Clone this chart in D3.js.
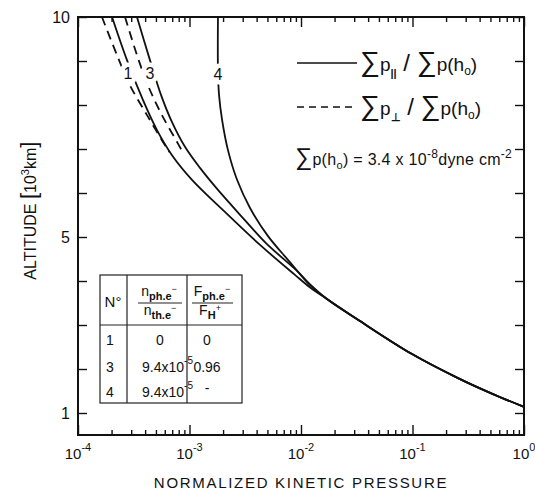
<!DOCTYPE html>
<html>
<head>
<meta charset="utf-8">
<script src="https://cdn.jsdelivr.net/npm/d3@7"></script>
<style>
  body { margin: 0; background: #fff; }
  svg text { font-family: "Liberation Sans", Arial, sans-serif; fill: #111; }
</style>
</head>
<body>
<div id="chart"></div>
<script>
// values: [normalized kinetic pressure, altitude in 10^3 km]
const curve1Par = [[2.02e-4, 10], [2.75e-4, 9.02], [3.83e-4, 8.11], [5.11e-4, 7.43], [6.97e-4, 6.86], [1.053e-3, 6.30],
  [2.0e-3, 5.61], [4.29e-3, 4.82], [8.83e-3, 4.14], [1.2e-2, 3.86]];
const curve3Par = [[3.38e-4, 10], [4.42e-4, 9.02], [5.55e-4, 8.23], [6.97e-4, 7.61], [9.11e-4, 7.05], [1.242e-3, 6.57],
  [1.8e-3, 6.07], [3.02e-3, 5.43], [4.85e-3, 4.86], [9.21e-3, 4.23], [1.2e-2, 3.93]];
const curve4Par = [[1.8e-3, 10], [1.8e-3, 8.8], [1.84e-3, 8.23], [1.96e-3, 7.66], [2.21e-3, 6.98], [2.67e-3, 6.30],
  [3.49e-3, 5.66], [5.06e-3, 5.02], [7.64e-3, 4.48], [1.2e-2, 3.91]];
const commonTail = [[1.71e-2, 3.59], [3.38e-2, 3.09], [9.9e-2, 2.34], [0.267, 1.77], [0.527, 1.43], [1, 1.14]];
const curve1Perp = [[1.64e-4, 10], [2.29e-4, 9.07], [2.92e-4, 8.45], [4.16e-4, 7.77], [5.78e-4, 7.16], [6.6e-4, 6.93]];
const curve3Perp = [[2.64e-4, 10], [3.5e-4, 9.02], [4.3e-4, 8.41], [5.66e-4, 7.77], [7.73e-4, 7.16], [8.6e-4, 6.95]];

const curveLabels = [
  { name: "1", p: 2.8e-4, alt: 8.73 },
  { name: "3", p: 4.43e-4, alt: 8.73 },
  { name: "4", p: 1.8e-3, alt: 8.7 }
];

const xMajor = [1e-4, 1e-3, 1e-2, 1e-1, 1];
const xExponents = ["-4", "-3", "-2", "-1", "0"];
const yTicks = [1, 2, 3, 4, 5, 6, 7, 8, 9, 10];
const yLabels = [1, 5, 10];

const tableRows = [
  ["1", "0", null, "0"],
  ["3", "9.4x10", "-5", "0.96"],
  ["4", "9.4x10", "-5", "-"]
];

const width = 535, height = 491;
const margin = {top: 17, right: 11, bottom: 56, left: 78};

const svg = d3.select("#chart").append("svg")
  .attr("width", width)
  .attr("height", height);

const x = d3.scaleLog()
  .domain([1e-4, 1])
  .range([margin.left, width - margin.right]);

const y = d3.scaleLinear()
  .domain([0.5, 10])
  .range([height - margin.bottom, margin.top]);

const xMinor = x.ticks().filter(v => !xMajor.some(m => Math.abs(m - v) / m < 1e-6));

function addTicks(gen, tx, ty, values, size) {
  const g = svg.append("g")
    .attr("transform", `translate(${tx},${ty})`)
    .call(gen.tickValues(values).tickSize(size).tickFormat(""));
  g.select(".domain").remove();
  g.selectAll("line").attr("stroke", "#111").attr("stroke-width", 1.4);
}

addTicks(d3.axisBottom(x), 0, y(0.5), xMinor, -5);
addTicks(d3.axisBottom(x), 0, y(0.5), xMajor, -10);
addTicks(d3.axisTop(x), 0, y(10), xMinor, -5);
addTicks(d3.axisTop(x), 0, y(10), xMajor, -10);
addTicks(d3.axisLeft(y), x(1e-4), 0, yTicks, -9);
addTicks(d3.axisRight(y), x(1), 0, yTicks, -9);

// frame
svg.append("rect")
  .attr("x", x(1e-4))
  .attr("y", y(10))
  .attr("width", x(1) - x(1e-4))
  .attr("height", y(0.5) - y(10))
  .attr("fill", "none")
  .attr("stroke", "#111")
  .attr("stroke-width", 2);

// tick labels
svg.selectAll(".ylab")
  .data(yLabels)
  .enter()
  .append("text")
  .attr("x", x(1e-4) - 8)
  .attr("y", d => y(d) + 6)
  .attr("text-anchor", "end")
  .style("font-size", "16px")
  .text(d => d);

const xl = svg.selectAll(".xlab")
  .data(xMajor)
  .enter()
  .append("text")
  .attr("x", d => x(d))
  .attr("y", y(0.5) + 24)
  .attr("text-anchor", "middle")
  .style("font-size", "15px");
xl.append("tspan").text("10");
xl.append("tspan")
  .attr("dy", -8)
  .style("font-size", "11px")
  .text((d, i) => xExponents[i]);

// axis titles
svg.append("text")
  .attr("x", (x(1e-4) + x(1)) / 2)
  .attr("y", height - 3)
  .attr("text-anchor", "middle")
  .style("font-size", "15px")
  .style("letter-spacing", "1.7px")
  .text("NORMALIZED KINETIC PRESSURE");

const yt = svg.append("text")
  .attr("transform", `translate(36,${y(5.6)}) rotate(-90)`)
  .attr("text-anchor", "middle")
  .style("font-size", "16px");
yt.append("tspan").text("ALTITUDE ");
yt.append("tspan").style("font-size", "22px").text("[");
yt.append("tspan").text("10");
yt.append("tspan").attr("dy", -7).style("font-size", "11px").text("3");
yt.append("tspan").attr("dy", 7).text("km");
yt.append("tspan").style("font-size", "22px").text("]");

// curves
const line = d3.line()
  .x(d => x(d[0]))
  .y(d => y(d[1]))
  .curve(d3.curveCatmullRom.alpha(0.5));

const solids = [curve1Par, curve3Par, curve4Par];
svg.selectAll(".solid")
  .data(solids)
  .enter()
  .append("path")
  .attr("d", d => line(d.concat(commonTail)))
  .attr("fill", "none")
  .attr("stroke", "#111")
  .attr("stroke-width", 1.8);

svg.selectAll(".dashed")
  .data([curve1Perp, curve3Perp])
  .enter()
  .append("path")
  .attr("d", d => line(d))
  .attr("fill", "none")
  .attr("stroke", "#111")
  .attr("stroke-width", 1.8)
  .attr("stroke-dasharray", "9,6");

// curve numbers with a white halo cutting the lines
svg.selectAll(".clab")
  .data(curveLabels)
  .enter()
  .append("text")
  .attr("x", d => x(d.p))
  .attr("y", d => y(d.alt) + 6)
  .attr("text-anchor", "middle")
  .style("font-size", "16px")
  .style("stroke", "#fff")
  .style("stroke-width", "9px")
  .style("paint-order", "stroke")
  .style("stroke-linejoin", "round")
  .text(d => d.name);

// legend
const lx = 297, lx2 = 357;
const legendRows = [
  { dash: null, sub: "||", ly: 63 },
  { dash: "7,5", sub: "\u22A5", ly: 107 }
];
legendRows.forEach(r => {
  svg.append("line")
    .attr("x1", lx).attr("x2", lx2)
    .attr("y1", r.ly).attr("y2", r.ly)
    .attr("stroke", "#111")
    .attr("stroke-width", 1.5)
    .attr("stroke-dasharray", r.dash);
  const t = svg.append("text")
    .attr("x", lx2 + 3)
    .attr("y", r.ly + 8)
    .style("font-size", "19px");
  t.append("tspan").style("font-size", "28px").text("\u2211");
  t.append("tspan").text("p");
  t.append("tspan").attr("dy", 6).style("font-size", "11px").style("font-weight", "bold").text(r.sub);
  t.append("tspan").attr("dy", -6).style("font-size", "24px").text(" / ");
  t.append("tspan").style("font-size", "28px").text("\u2211");
  t.append("tspan").text("p(h");
  t.append("tspan").attr("dy", 4).style("font-size", "12px").text("o");
  t.append("tspan").attr("dy", -4).text(")");
});

const note = svg.append("text")
  .attr("x", 295)
  .attr("y", 165)
  .style("font-size", "16px")
  .style("letter-spacing", "0.3px");
note.append("tspan").style("font-size", "24px").text("\u2211");
note.append("tspan").text("p(h");
note.append("tspan").attr("dy", 4).style("font-size", "11px").text("o");
note.append("tspan").attr("dy", -4).text(") = 3.4 x 10");
note.append("tspan").attr("dy", -7).style("font-size", "12px").text("-8");
note.append("tspan").attr("dy", 7).text("dyne cm");
note.append("tspan").attr("dy", -7).style("font-size", "12px").text("-2");

// parameter table
const tb = {x0: 100, x1: 127, x2: 187, x3: 242, y0: 275, y1: 325, y2: 403};
const tg = svg.append("g")
  .attr("stroke", "#222")
  .attr("stroke-width", 1.2)
  .attr("fill", "none");
tg.append("rect")
  .attr("x", tb.x0).attr("y", tb.y0)
  .attr("width", tb.x3 - tb.x0).attr("height", tb.y2 - tb.y0)
  .attr("fill", "#fff");
[tb.x1, tb.x2].forEach(cx => tg.append("line")
  .attr("x1", cx).attr("x2", cx).attr("y1", tb.y0).attr("y2", tb.y2));
tg.append("line").attr("x1", tb.x0).attr("x2", tb.x3).attr("y1", tb.y1).attr("y2", tb.y1);
// fraction bars
tg.append("line").attr("x1", 138).attr("x2", 182).attr("y1", 303).attr("y2", 303);
tg.append("line").attr("x1", 192).attr("x2", 233).attr("y1", 303).attr("y2", 303);

svg.append("text").attr("x", 113).attr("y", 307).attr("text-anchor", "middle")
  .style("font-size", "15px").text("N\u00B0");

function fracPart(cx, by, main, sub, sup) {
  const t = svg.append("text").attr("x", cx).attr("y", by)
    .attr("text-anchor", "middle").style("font-size", "14px");
  t.append("tspan").text(main);
  t.append("tspan").attr("dy", 4).style("font-size", "11px").style("font-weight", "bold").text(sub);
  t.append("tspan").attr("dy", -8).style("font-size", "9px").text(sup);
}
fracPart(159, 296, "n", "ph.e", "\u2212");
fracPart(160, 315, "n", "th.e", "\u2212");
fracPart(212, 296, "F", "ph.e", "\u2212");
fracPart(210, 315, "F", "H", "+");

const rowY = [345, 372, 397];
tableRows.forEach((r, i) => {
  svg.append("text").attr("x", 110).attr("y", rowY[i]).attr("text-anchor", "middle")
    .style("font-size", "14px").text(r[0]);
  const c2 = svg.append("text").attr("x", r[2] ? 142 : 160).attr("y", rowY[i])
    .attr("text-anchor", r[2] ? "start" : "middle").style("font-size", "14px");
  c2.append("tspan").text(r[1]);
  if (r[2]) c2.append("tspan").attr("dy", -8).style("font-size", "10px").text(r[2]);
  svg.append("text").attr("x", 207).attr("y", rowY[i] - (r[3] === "-" ? 4 : 0)).attr("text-anchor", "middle")
    .style("font-size", "14px").text(r[3]);
});
</script>
</body>
</html>
